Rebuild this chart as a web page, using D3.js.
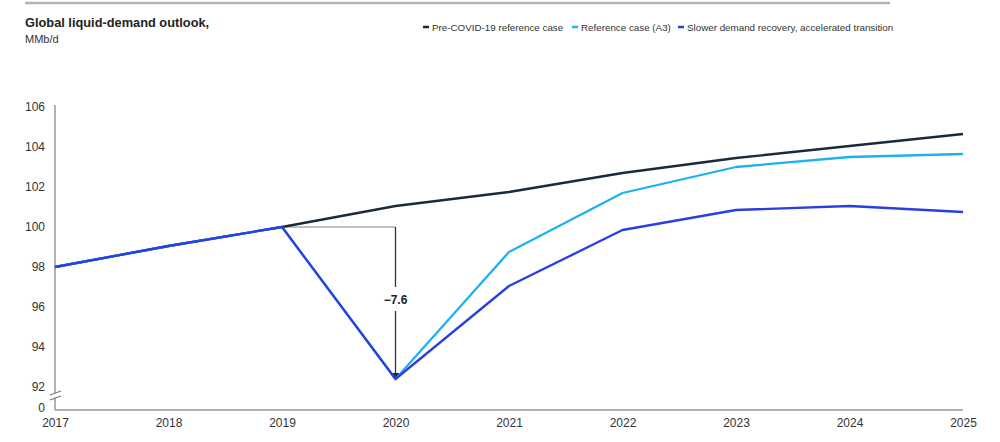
<!DOCTYPE html>
<html><head><meta charset="utf-8">
<script src="https://cdn.jsdelivr.net/npm/d3@7"></script>
<style>
body{margin:0;background:#fff;}
svg{font-family:"Liberation Sans",Arial,sans-serif;}
</style></head><body>
<svg id="c" width="1000" height="442"></svg>
<script>
const years = [2017,2018,2019,2020,2021,2022,2023,2024,2025];
const preCovid = [98.0,99.05,100.0,101.05,101.75,102.7,103.45,104.05,104.65];
const refA3 = [98.0,99.05,100.0,92.4,98.75,101.7,103.0,103.5,103.65];
const slower = [98.0,99.05,100.0,92.4,97.05,99.85,100.85,101.05,100.75];
const yTicks = [92,94,96,98,100,102,104,106];
const seriesNames = ["Pre-COVID-19 reference case","Reference case (A3)","Slower demand recovery, accelerated transition"];
const colors = ["#1b2a38","#1eb1f2","#2a3fe0"];
const dropLabel = "\u22127.6";

const svg = d3.select("#c");
const x = d3.scaleLinear().domain([2017,2025]).range([55,963]);
const y = d3.scaleLinear().domain([92,106]).range([387,107]);
const zeroY = 410;

// top rule
svg.append("line").attr("x1",25).attr("x2",890).attr("y1",3).attr("y2",3)
  .attr("stroke","#b3b3b3").attr("stroke-width",2.5);

// title
svg.append("text").attr("x",25).attr("y",27).attr("font-size",12.8).attr("font-weight","bold")
  .attr("fill","#222").text("Global liquid-demand outlook,");
svg.append("text").attr("x",25).attr("y",43).attr("font-size",11).attr("fill","#333").text("MMb/d");

// legend
const legX = [423,572,678];
seriesNames.forEach((n,i)=>{
  svg.append("line").attr("x1",legX[i]).attr("x2",legX[i]+6).attr("y1",27).attr("y2",27)
    .attr("stroke",colors[i]).attr("stroke-width",2.5);
  svg.append("text").attr("x",legX[i]+9).attr("y",30.5).attr("font-size",9.8).attr("fill","#333").text(n);
});

// y axis
const yAxis = d3.axisLeft(y).tickValues(yTicks).tickSize(0).tickPadding(10).tickFormat(d3.format("d"));
const ga = svg.append("g").attr("transform","translate(55,0)").call(yAxis);
ga.select(".domain").remove();
ga.selectAll("text").attr("font-size",12).attr("fill","#333").attr("font-family","Liberation Sans, Arial, sans-serif");
// zero label
svg.append("text").attr("x",45).attr("y",zeroY+2).attr("text-anchor","end").attr("font-size",12).attr("fill","#333").text("0");
// axis line with break
svg.append("line").attr("x1",55).attr("x2",55).attr("y1",y(106)-2).attr("y2",393).attr("stroke","#999").attr("stroke-width",1.5);
svg.append("line").attr("x1",55).attr("x2",55).attr("y1",398).attr("y2",zeroY).attr("stroke","#999").attr("stroke-width",1.5);
[[50,395,61,391],[50,400,61,396]].forEach(b=>{
  svg.append("line").attr("x1",b[0]).attr("y1",b[1]).attr("x2",b[2]).attr("y2",b[3]).attr("stroke","#777").attr("stroke-width",1.2);
});

// x axis
svg.append("line").attr("x1",55).attr("x2",963).attr("y1",zeroY).attr("y2",zeroY).attr("stroke","#999").attr("stroke-width",1.5);
const xAxis = d3.axisBottom(x).tickValues(years).tickSize(0).tickPadding(8).tickFormat(d3.format("d"));
const gx = svg.append("g").attr("transform",`translate(0,${zeroY})`).call(xAxis);
gx.select(".domain").remove();
gx.selectAll("text").attr("font-size",12).attr("fill","#333").attr("font-family","Liberation Sans, Arial, sans-serif");

// annotation
const i19 = 2, i20 = 3;
svg.append("line").attr("x1",x(years[i19])).attr("x2",x(years[i20])).attr("y1",y(preCovid[i19])).attr("y2",y(preCovid[i19]))
  .attr("stroke","#aaa").attr("stroke-width",1.5);
const ax = x(years[i20]);
svg.append("line").attr("x1",ax).attr("x2",ax).attr("y1",y(preCovid[i19])).attr("y2",y(preCovid[i19])+60)
  .attr("stroke","#333").attr("stroke-width",1.3);
svg.append("line").attr("x1",ax).attr("x2",ax).attr("y1",y(preCovid[i19])+84).attr("y2",y(slower[i20])-5)
  .attr("stroke","#333").attr("stroke-width",1.3);
svg.append("path").attr("d",`M${ax-4},${y(slower[i20])-6}L${ax+4},${y(slower[i20])-6}L${ax},${y(slower[i20])+1}Z`).attr("fill","#222");
svg.append("text").attr("x",ax).attr("y",y(preCovid[i19])+77).attr("text-anchor","middle").attr("font-size",12)
  .attr("font-weight","bold").attr("fill","#222").text(dropLabel);

// lines
const line = d3.line().x((d,i)=>x(years[i])).y(d=>y(d));
[preCovid,refA3,slower].forEach((s,i)=>{
  svg.append("path").datum(s).attr("d",line).attr("fill","none").attr("stroke",colors[i]).attr("stroke-width",2.3)
    .attr("stroke-linejoin","round");
});
</script>
</body></html>
